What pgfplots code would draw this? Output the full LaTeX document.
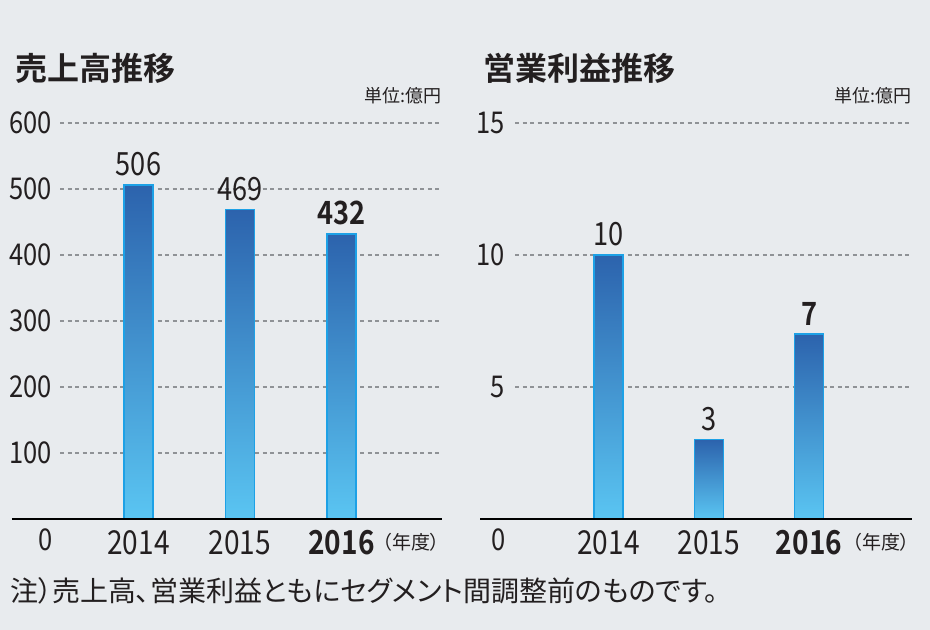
\documentclass[border=0pt]{standalone}
\usepackage{fontspec}
\setmainfont{Noto Sans CJK JP}[BoldFont={Noto Sans CJK JP Bold}, RawFeature=+palt]
\newfontfamily\numfont{Noto Sans CJK JP}[BoldFont={Noto Sans CJK JP Bold}, FakeStretch=0.85]
\usepackage{pgfplots}
\pgfplotsset{compat=1.18}
\definecolor{bg}{HTML}{E8EBEE}
\definecolor{bartop}{HTML}{2C63AD}
\definecolor{barbot}{HTML}{5AC5F2}
\definecolor{barline}{HTML}{1DA1E6}
\definecolor{gridc}{HTML}{8F9296}
\definecolor{txt}{HTML}{231F20}
\pgfplotsset{
  panel/.style={
    scale only axis, anchor=south west, clip=false,
    width=#1, height=396bp, ymin=0,
    axis line style={draw=none}, major tick style={draw=none},
    ymajorgrids, grid style={gridc, line width=1.1bp, dash pattern=on 4bp off 3.5bp},
    xtick={0,1,2}, xticklabels={2014,2015,\textbf{2016}},
    /pgf/number format/assume math mode=true,
    yticklabel style={font=\numfont\fontsize{30bp}{30bp}\selectfont, text=txt, inner sep=0pt, anchor=east},
    xticklabel style={font=\numfont\fontsize{33bp}{33bp}\selectfont, text=txt, inner sep=0pt, anchor=north, yshift=-11bp},
  },
  mybar/.style={ybar, bar width=29bp, draw=barline, line width=1.4bp,
    top color=bartop, bottom color=barbot,
    nodes near coords, nodes near coords align={vertical},
    every node near coord/.append style={inner sep=0pt, yshift=8bp, text=txt, font=\numfont\fontsize{32bp}{32bp}\selectfont #1}},
}
\begin{document}
\begin{tikzpicture}
\fill[bg] (0,0) rectangle (930bp,630bp);
% left panel
\begin{axis}[panel=382bp, at={(60bp,111bp)},
  xmin=-0.773, xmax=2.990, ymax=600, ytick={100,200,300,400,500,600},
  yticklabel style={xshift=-8bp}]
\addplot[mybar={}] coordinates {(0,506)};
\addplot[mybar={}] coordinates {(1,469)};
\addplot[mybar={\bfseries}] coordinates {(2,432)};
\draw[black, line width=1.5bp] ([xshift=-48bp]rel axis cs:0,0) -- (rel axis cs:1,0);
\node[font=\numfont\fontsize{30bp}{30bp}\selectfont, text=txt, inner sep=0pt] at ([xshift=-14bp, yshift=-21bp]rel axis cs:0,0) {0};
\end{axis}
% right panel
\begin{axis}[panel=397bp, at={(515bp,111bp)},
  xmin=-0.932, xmax=3.026, ymax=15, ytick={5,10,15},
  yticklabel style={xshift=-10bp}]
\addplot[mybar={}] coordinates {(0,10)};
\addplot[mybar={}] coordinates {(1,3)};
\addplot[mybar={\bfseries}] coordinates {(2,7)};
\draw[black, line width=1.5bp] ([xshift=-35bp]rel axis cs:0,0) -- (rel axis cs:1,0);
\node[font=\numfont\fontsize{30bp}{30bp}\selectfont, text=txt, inner sep=0pt] at ([xshift=-16bp, yshift=-21bp]rel axis cs:0,0) {0};
\end{axis}
% texts
\node[anchor=west, inner sep=0pt, text=txt, font=\bfseries\fontsize{32bp}{32bp}\selectfont] at (15bp,562bp) {売上高推移};
\node[anchor=west, inner sep=0pt, text=txt, font=\bfseries\fontsize{32bp}{32bp}\selectfont] at (483bp,562bp) {営業利益推移};
\node[anchor=east, inner sep=0pt, text=txt, font=\fontsize{18bp}{18bp}\selectfont] at (442bp,534bp) {単位:億円};
\node[anchor=east, inner sep=0pt, text=txt, font=\fontsize{18bp}{18bp}\selectfont] at (912bp,534bp) {単位:億円};
\node[anchor=east, inner sep=0pt, text=txt, font=\fontsize{19bp}{19bp}\selectfont] at (440bp,88bp) {（年度）};
\node[anchor=east, inner sep=0pt, text=txt, font=\fontsize{19bp}{19bp}\selectfont] at (910bp,88bp) {（年度）};
\node[anchor=west, inner sep=0pt, text=txt, font=\fontsize{28bp}{28bp}\selectfont] at (10bp,39bp) {注）売上高、営業利益ともにセグメント間調整前のものです。};
\pgfresetboundingbox
\useasboundingbox (0,0) rectangle (930bp,630bp);
\end{tikzpicture}
\end{document}
